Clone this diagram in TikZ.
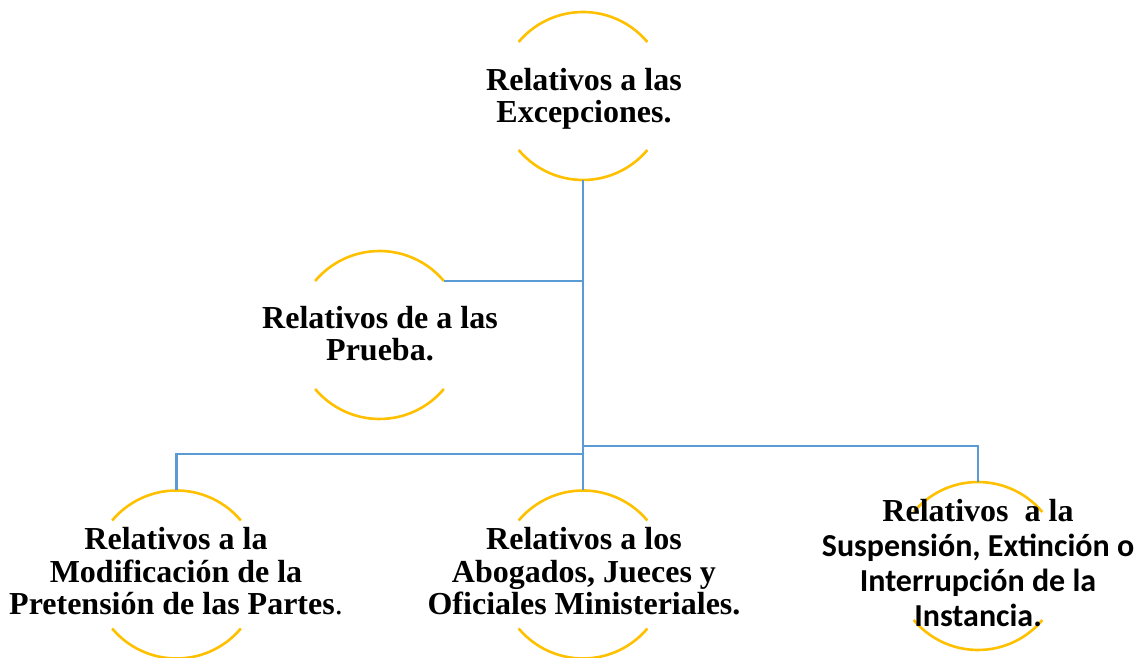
\documentclass[tikz,border=0pt]{standalone}
\usepackage{fontspec}
\setmainfont{Liberation Serif}
\newfontfamily\calib{Carlito}
\definecolor{arcgold}{HTML}{FFC000}
\definecolor{linkblue}{HTML}{5B9BD5}
\begin{document}
\begin{tikzpicture}[x=1pt,y=1pt,
  ring/.style={circle, minimum size=168pt, inner sep=0pt, outer sep=0pt},
  arcline/.style={draw=arcgold, line width=2.6pt},
  link/.style={draw=linkblue, line width=2.8pt},
  label/.style={align=center, inner sep=0pt, font=\bfseries\fontsize{32}{32.5}\selectfont}]
\useasboundingbox (0,0) rectangle (1140,658);
% ring placeholders
\node[ring] (c1) at (583,562) {};
\node[ring] (c2) at (379.5,323) {};
\node[ring] (c3) at (176.5,83.5) {};
\node[ring] (c4) at (583,83.5) {};
\node[ring] (c5) at (978,92) {};
% arcs
\foreach \c in {c1,c2,c3,c4,c5}{
  \draw[arcline] (\c.40) arc[start angle=40, end angle=140, radius=84pt];
  \draw[arcline] (\c.220) arc[start angle=220, end angle=320, radius=84pt];
}
% connectors
\coordinate (j2) at (c2.40 -| c1.south);
\draw[link] (c1.south) -- (c4.north);
\draw[link] (c2.40) -- (j2);
\coordinate (jl) at (583,204);
\coordinate (jr) at (583,212);
\draw[link] (jl) -| (c3.north);
\draw[link] (jr) -| (c5.north);
% texts
\node[label] (t1) at (584,559) {Relativos a las\\Excepciones.};
\node[label] (t2) at (380,324.5) {Relativos de a las\\Prueba.};
\node[label] (t3) at (176,86.5) {Relativos a la\\Modificación de la\\Pretensión de las Partes\textmd{.}};
\node[label] (t4) at (584,86.5) {Relativos a los\\Abogados, Jueces y\\Oficiales Ministeriales.};
\node[label, font=\bfseries\fontsize{32}{35}\selectfont] (t5) at (978,94.5) {Relativos\ \ a la\\{\calib Suspensión, Extinción o}\\{\calib Interrupción de la}\\{\calib Instancia.}};
\end{tikzpicture}
\end{document}
